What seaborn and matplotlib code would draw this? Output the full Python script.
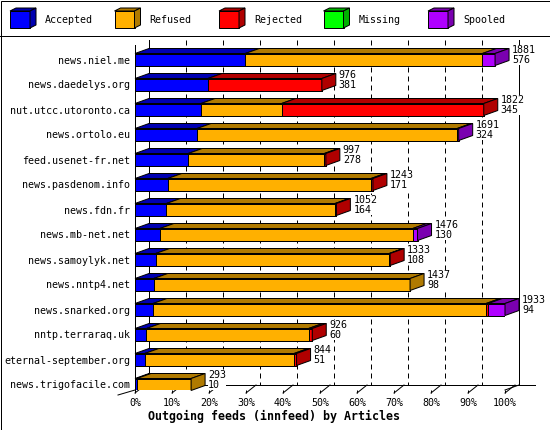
import numpy as np
import pandas as pd
import matplotlib
matplotlib.use("Agg")
import matplotlib.pyplot as plt
from matplotlib.patches import Polygon, Rectangle
import seaborn as sns

# ---------------- data ----------------
hosts = ["news.niel.me", "news.daedelys.org", "nut.utcc.utoronto.ca", "news.ortolo.eu",
         "feed.usenet-fr.net", "news.pasdenom.info", "news.fdn.fr", "news.mb-net.net",
         "news.samoylyk.net", "news.nntp4.net", "news.snarked.org", "nntp.terraraq.uk",
         "eternal-september.org", "news.trigofacile.com"]
accepted = [576, 381, 345, 324, 278, 171, 164, 130, 108, 98, 94, 60, 51, 10]
refused = [1239, 0, 421, 1359, 711, 1062, 881, 1321, 1220, 1339, 1740, 847, 780, 283]
rejected = [0, 595, 1056, 0, 8, 10, 7, 0, 5, 0, 12, 19, 13, 0]
missing = [0, 0, 0, 0, 0, 0, 0, 0, 0, 0, 0, 0, 0, 0]
spooled = [66, 0, 0, 8, 0, 0, 0, 25, 0, 0, 87, 0, 0, 0]
series_names = ["Accepted", "Refused", "Rejected", "Missing", "Spooled"]
tick_values = [0, 10, 20, 30, 40, 50, 60, 70, 80, 90, 100]
x_title = "Outgoing feeds (innfeed) by Articles"

# ---------------- style ----------------
front_colors = {"Accepted": "#0000FF", "Refused": "#FFB000", "Rejected": "#FF0000",
                "Missing": "#00FF00", "Spooled": "#B000FF"}
dark_colors = {"Accepted": "#0000B0", "Refused": "#B07A00", "Rejected": "#B00000",
               "Missing": "#00B000", "Spooled": "#7A00B0"}
MONO = "DejaVu Sans Mono"
FS = 7.2
PX = 0.72  # one pixel in points at dpi 100

W, H = 550, 430
fig = plt.figure(figsize=(W / 100, H / 100), dpi=100)
fig.patch.set_facecolor("white")

# pixel geometry of plot region
X0, X100 = 135, 505
YTOP, YBOT = 40, 390
ROW0 = 59.5
ROWPX = 25.0
pxx = (X100 - X0) / 100.0
ax = fig.add_axes([X0 / W, 1 - YBOT / H, (X100 - X0) / W, (YBOT - YTOP) / H])
ax.set_facecolor("none")
ylim_top = -(ROW0 - YTOP) / ROWPX
ylim_bot = (len(hosts) - 1) + (YBOT - (ROW0 + (len(hosts) - 1) * ROWPX)) / ROWPX

DX = 14 / pxx          # depth in percent units
DY = 5 / ROWPX         # depth in row units
BAR_H = 12 / ROWPX

df = pd.DataFrame({"host": hosts, "Accepted": accepted, "Refused": refused,
                   "Rejected": rejected, "Missing": missing, "Spooled": spooled})
totals = df[series_names].sum(axis=1)
pct = df[series_names].div(totals.max()) * 100.0
cum = pct.cumsum(axis=1)

# stacked front faces (draw cumulative layers from the outermost in)
for s in reversed(series_names):
    sns.barplot(x=cum[s].values, y=df["host"], orient="h", color=front_colors[s],
                saturation=1, width=BAR_H, edgecolor="black", linewidth=PX,
                errorbar=None, ax=ax, zorder=3)

ax.set_xlim(0, 100)
ax.set_ylim(ylim_bot, ylim_top)

# 3D top and side faces
for i in range(len(hosts)):
    yt = i - BAR_H / 2
    yb = i + BAR_H / 2
    prev = 0.0
    last = None
    for s in series_names:
        x1 = cum.loc[i, s]
        if x1 - prev > 1e-9:
            ax.add_patch(Polygon([(prev, yt), (x1, yt), (x1 + DX, yt - DY), (prev + DX, yt - DY)],
                                 closed=True, facecolor=dark_colors[s], edgecolor="black",
                                 linewidth=PX, zorder=3, clip_on=False))
            last = s
        prev = x1
    xe = cum.loc[i, series_names[-1]]
    ax.add_patch(Polygon([(xe, yt), (xe + DX, yt - DY), (xe + DX, yb - DY), (xe, yb)],
                         closed=True, facecolor=dark_colors[last], edgecolor="black",
                         linewidth=PX, zorder=3, clip_on=False))
    ax.text(xe + DX + 3 / pxx, i - 4.5 / ROWPX, f"{totals[i]}\n{accepted[i]}",
            ha="left", va="center", fontsize=FS, family=MONO, linespacing=1.0,
            zorder=5, bbox=dict(facecolor="white", edgecolor="none", pad=0.3))

# back wall grid lines
yfloor = ylim_bot - DY
for t in tick_values:
    if t in (0, 100):
        ax.plot([t + DX, t + DX], [ylim_top, yfloor], color="black", lw=PX,
                zorder=1, clip_on=False)
    else:
        ax.plot([t + DX, t + DX], [ylim_top, yfloor], color="black", lw=PX,
                dashes=(5, 4), zorder=1, clip_on=False)
    # small floor depth marks
    ax.plot([t, t + 10 / pxx], [ylim_bot + 3 / ROWPX, yfloor], color="black", lw=PX,
            zorder=1, clip_on=False)
# back floor line
ax.plot([DX, 100 + DX + 16 / pxx], [yfloor, yfloor], color="black", lw=PX, zorder=1, clip_on=False)
# front-left axis and floor edges
ax.plot([0, 0], [ylim_top + DY, ylim_bot], color="black", lw=PX, zorder=4, clip_on=False)
ax.plot([-17 / pxx, 0], [ylim_bot + 5 / ROWPX, ylim_bot], color="black", lw=PX, zorder=1, clip_on=False)
ax.plot([100, 100 + DX], [ylim_bot, yfloor], color="black", lw=PX, zorder=1, clip_on=False)

for sp in ax.spines.values():
    sp.set_visible(False)
ax.set_xticks(tick_values)
ax.set_xticklabels([f"{t}%" for t in tick_values], family=MONO, fontsize=FS)
ax.tick_params(axis="x", length=3 * PX, width=PX, direction="out", pad=5 * PX)
ax.tick_params(axis="y", length=0, pad=5 * PX)
ax.set_yticks(range(len(hosts)))
ax.set_yticklabels(hosts, family=MONO, fontsize=FS)
ax.set_xlabel("")
ax.set_ylabel("")

fig.text(274 / W, 1 - 416.5 / H, x_title, ha="center", va="center",
         family=MONO, fontsize=8.4, fontweight="bold")

# ---------------- legend & frame (pixel space) ----------------
lax = fig.add_axes([0, 0, 1, 1], zorder=-1)
lax.set_xlim(0, W)
lax.set_ylim(H, 0)
lax.axis("off")
lax.add_patch(Rectangle((0.5, 0.5), W - 1, H - 1, fill=False, edgecolor="black", lw=PX))
lax.plot([0, W], [35.5, 35.5], color="black", lw=PX)
for k, s in enumerate(series_names):
    x0 = 10 + 104.5 * k
    lax.add_patch(Rectangle((x0, 11), 20, 17, facecolor=front_colors[s], edgecolor="black", lw=PX))
    lax.add_patch(Polygon([(x0, 11), (x0 + 20, 11), (x0 + 26, 8), (x0 + 6, 8)], closed=True,
                          facecolor=dark_colors[s], edgecolor="black", lw=PX))
    lax.add_patch(Polygon([(x0 + 20, 11), (x0 + 26, 8), (x0 + 26, 25), (x0 + 20, 28)], closed=True,
                          facecolor=dark_colors[s], edgecolor="black", lw=PX))
    lax.text(x0 + 35, 20, s, ha="left", va="center", family=MONO, fontsize=FS)

fig.savefig("out.png", dpi=100, facecolor="white")
